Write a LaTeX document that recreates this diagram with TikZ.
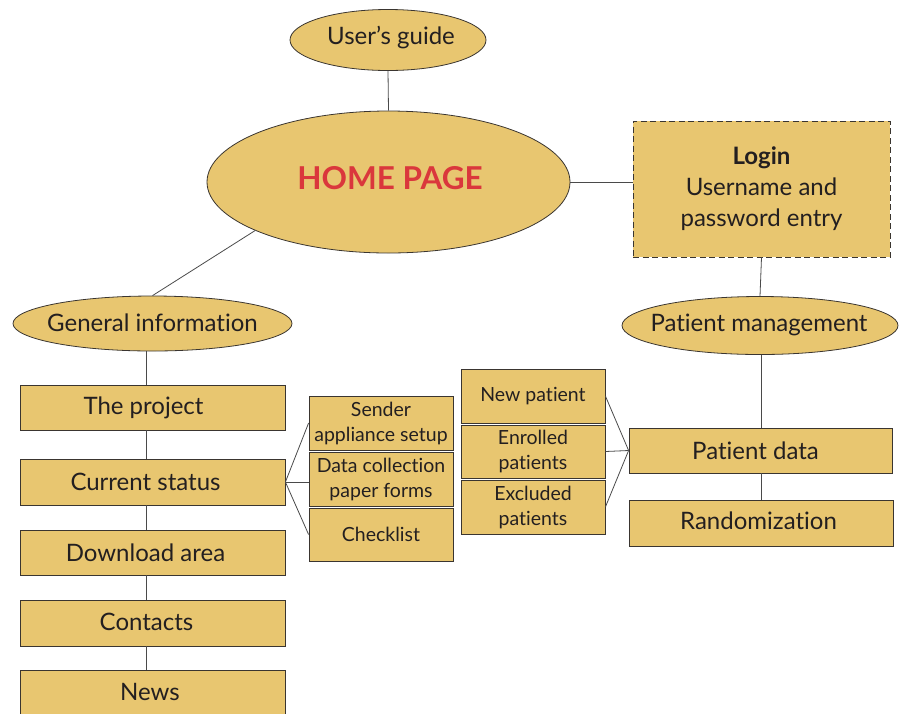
\documentclass[tikz,border=0pt]{standalone}
\usepackage{fontspec}
\setmainfont{Lato}[Ligatures={NoCommon,NoRare,NoContextual}]
\usetikzlibrary{shapes.geometric}
\definecolor{boxfill}{HTML}{E8C670}
\definecolor{boxline}{HTML}{3A3530}
\definecolor{txt}{HTML}{231F20}
\definecolor{homered}{HTML}{DA373C}
\definecolor{conn}{HTML}{4A4A4A}
\tikzset{
  oval/.style={ellipse, draw=boxline, fill=boxfill, line width=0.8pt, inner sep=0pt, text=txt},
  bigbox/.style={rectangle, draw=boxline, fill=boxfill, line width=0.8pt, inner sep=0pt, text=txt},
  bigtext/.style={text=txt, inner sep=0pt, font=\fontsize{24}{28}\selectfont},
  smallbox/.style={rectangle, draw=boxline, fill=boxfill, line width=0.8pt, inner sep=0pt, text=txt, align=center, font=\fontsize{19.5}{25}\selectfont},
  link/.style={draw=conn, line width=0.8pt},
}
\begin{document}
\begin{tikzpicture}[x=1pt,y=-1pt]
\useasboundingbox (0,0) rectangle (901,713);
% ellipses
\node[oval, minimum width=196pt, minimum height=61pt] (guide) at (388,40) {};
\node[bigtext] (guidet) at (391,38) {User’s guide};
\node[oval, minimum width=363pt, minimum height=142pt] (home) at (388.5,182) {};
\node[text=homered, font=\fontsize{31.5}{34}\bfseries\selectfont] (hometext) at (390,178) {HOME PAGE};
\node[oval, minimum width=279pt, minimum height=55pt] (gi) at (152.5,323.5) {};
\node[bigtext] (git) at (152.5,323) {General information};
\node[oval, minimum width=276pt, minimum height=58pt] (pm) at (760,325.5) {};
\node[bigtext] (pmt) at (759,325) {Patient management};
% login
\node[rectangle, draw=boxline, dashed, dash pattern=on 6pt off 3.5pt, fill=boxfill, line width=0.9pt, inner sep=0pt,
      minimum width=257pt, minimum height=136pt, text=txt, align=center, font=\fontsize{24}{31}\selectfont] (login) at (761.5,189)
      {{\bfseries Login}\\Username and\\password entry};
% left column
\node[bigbox, minimum width=265pt, minimum height=45pt] (proj) at (152.5,407.5) {};
\node[bigbox, minimum width=265pt, minimum height=46pt] (cs) at (152.5,482) {};
\node[bigbox, minimum width=265pt, minimum height=45pt] (dl) at (153,552.5) {};
\node[bigbox, minimum width=265pt, minimum height=46pt] (ct) at (153,623) {};
\node[bigbox, minimum width=265pt, minimum height=50pt] (news) at (153,695) {};
\node[bigtext] (projt) at (143.5,407.5) {The project};
\node[bigtext] (cst) at (145.5,482) {Current status};
\node[bigtext] (dlt) at (145.5,552.5) {Download area};
\node[bigtext] (ctt) at (146.5,622) {Contacts};
\node[bigtext] (newst) at (150,692) {News};
% middle column
\node[smallbox, minimum width=144pt, minimum height=54pt] (sender) at (381,423) {Sender\\appliance setup};
\node[smallbox, minimum width=144pt, minimum height=54pt] (dc) at (381,479) {Data collection\\paper forms};
\node[smallbox, minimum width=144pt, minimum height=53pt] (check) at (381,534.5) {Checklist};
% patient column
\node[smallbox, minimum width=144pt, minimum height=54pt] (newp) at (533,396) {New patient};
\node[smallbox, minimum width=144pt, minimum height=53pt] (enr) at (533,451.5) {Enrolled\\patients};
\node[smallbox, minimum width=144pt, minimum height=54pt] (exc) at (533,507) {Excluded\\patients};
% right
\node[bigbox, minimum width=263pt, minimum height=45pt] (pd) at (760.5,450.5) {};
\node[bigbox, minimum width=264pt, minimum height=46pt] (rand) at (761,523) {};
\node[bigtext] (pdt) at (755.5,450.5) {Patient data};
\node[bigtext] (randt) at (758.5,521) {Randomization};
% connector anchor points
\coordinate (lx) at (146.5,0);
\coordinate (rx) at (761.5,0);
% connectors
\draw[link] (guide.south) -- (home.north);
\draw[link] (home.east) -- (login.west |- home.east);
\draw[link] (home.200) -- (gi.north);
\draw[link] (login.south) -- (pm.north);
\draw[link] (lx |- gi.south) -- (lx |- proj.north);
\draw[link] (lx |- proj.south) -- (lx |- cs.north);
\draw[link] (lx |- cs.south) -- (lx |- dl.north);
\draw[link] (lx |- dl.south) -- (lx |- ct.north);
\draw[link] (lx |- ct.south) -- (lx |- news.north);
\draw[link] (rx |- pm.south) -- (rx |- pd.north);
\draw[link] (rx |- pd.south) -- (rx |- rand.north);
\draw[link] (cs.east) -- (sender.west);
\draw[link] (cs.east) -- (dc.west |- cs.east);
\draw[link] (cs.east) -- (check.west);
\draw[link] (pd.west) -- (newp.east);
\draw[link] (pd.west) -- (enr.east);
\draw[link] (pd.west) -- (exc.east);
\end{tikzpicture}
\end{document}
